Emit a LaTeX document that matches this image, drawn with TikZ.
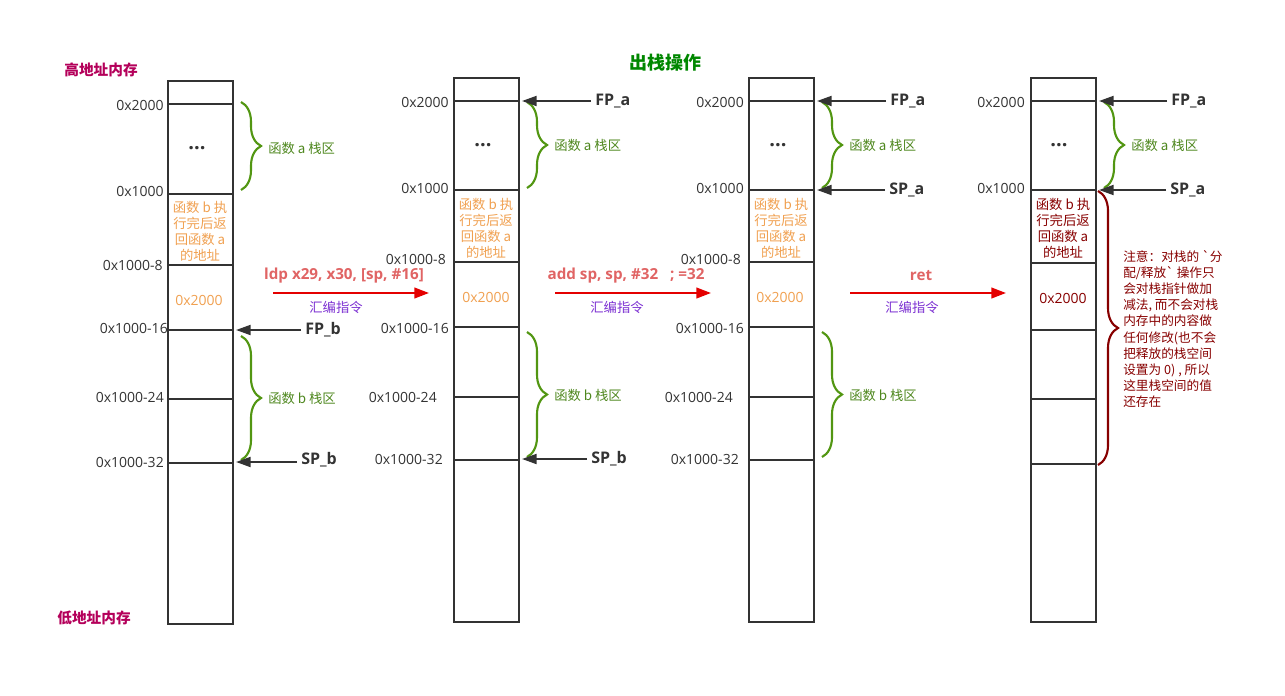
\documentclass[tikz,border=0pt]{standalone}
\usepackage{fontspec}
\setmainfont{Open Sans}
\newfontfamily\cjk{Noto Sans CJK SC}
\usetikzlibrary{
    arrows.meta,
    decorations.pathreplacing,
    positioning
}
\definecolor{inkgray}{RGB}{51,51,51}
\definecolor{bracegreen}{RGB}{82,150,18}
\definecolor{areagreen}{RGB}{78,135,30}
\definecolor{addrorange}{RGB}{240,160,80}
\definecolor{notered}{RGB}{135,0,0}
\definecolor{arrowred}{RGB}{228,0,0}
\definecolor{instrred}{RGB}{224,100,100}
\definecolor{asmpurple}{RGB}{125,50,210}
\definecolor{memred}{RGB}{180,0,90}
\definecolor{titlegreen}{RGB}{0,135,0}
\tikzset{addr/.style={anchor=east, inner sep=0pt, text=inkgray, font=\fontsize{10.5}{12}\selectfont}}
\tikzset{ptr/.style={anchor=west, inner xsep=3pt, inner ysep=0pt, text=inkgray, font=\bfseries\fontsize{12}{14}\selectfont}}
\tikzset{ptrarrow/.style={draw=inkgray, line width=1.5pt, -{Triangle[length=11pt,width=7.5pt]}}}
\tikzset{cell/.style={draw=inkgray, line width=1.5pt}}
\tikzset{stackbrace/.style={decorate, decoration={brace, amplitude=15pt}, draw=bracegreen, line width=1.6pt}}
\tikzset{notebrace/.style={stackbrace, draw=notered}}
\tikzset{area/.style={anchor=west, inner sep=0pt, text=areagreen, font=\cjk\fontsize{10}{12}\selectfont}}
\tikzset{retaddr/.style={align=center, inner sep=0pt, text=addrorange, font=\cjk\fontsize{10}{12}\selectfont}}
\tikzset{saved/.style={inner sep=0pt, text=addrorange, font=\fontsize{10.5}{12}\selectfont}}
\tikzset{dots/.style={inner sep=0pt, text=inkgray, font=\bfseries\fontsize{15}{15}\selectfont}}
\tikzset{steparrow/.style={draw=arrowred, line width=1.5pt, -{Triangle[length=11pt,width=8pt]}}}
\tikzset{instr/.style={inner sep=0pt, text=instrred, font=\bfseries\fontsize{11.4}{13}\selectfont}}
\tikzset{asm/.style={inner sep=0pt, text=asmpurple, font=\cjk\fontsize{10}{12}\selectfont}}
\tikzset{memend/.style={inner sep=0pt, text=memred, font=\cjk\bfseries\fontsize{11}{13}\selectfont}}
\tikzset{headline/.style={inner sep=0pt, text=titlegreen, font=\cjk\bfseries\fontsize{13.5}{16}\selectfont}}
\tikzset{note/.style={anchor=west, align=left, inner sep=0pt, text=notered, font=\cjk\fontsize{9.5}{12.15}\selectfont}}
\begin{document}
\begin{tikzpicture}[x=0.75pt, y=-0.75pt]
\useasboundingbox (0,0) rectangle (1285,696);

\node[headline] (ttl) at (665,63) {出栈操作};
\node[memend] (hi) at (101,70) {高地址内存};
\node[memend] (lo) at (94,618) {低地址内存};

% column 1: before ldp
\draw[cell] (168,81) rectangle (233,624);
\foreach \y in {104,194,265,330,399,463}
    \draw[cell] (168,\y) -- (234,\y);
\node[addr] (c1m0) at (164,105) {0x2000};
\node[addr] (c1m1) at (164,191) {0x1000};
\node[addr] (c1m2) at (163,265) {0x1000-8};
\node[addr] (c1m3) at (168,328) {0x1000-16};
\node[addr] (c1m4) at (164,397) {0x1000-24};
\node[addr] (c1m5) at (164,462) {0x1000-32};
\node[dots] (c1dots) at (197,148) {...};
\node[retaddr] (c1ret) at (200,231) {函数 b 执\\行完后返\\回函数 a\\的地址};
\node[saved] (c1fp) at (199,300) {0x2000};
\coordinate (c1at) at (241,102);
\coordinate (c1ab) at (241,190);
\coordinate (c1bt) at (241,336);
\coordinate (c1bb) at (241,460);
\draw[stackbrace] (c1at) -- (c1ab);
\draw[stackbrace] (c1bt) -- (c1bb);
\node[area] (c1a) at (268,148) {函数 a 栈区};
\node[area] (c1b) at (268,398) {函数 b 栈区};
\node[ptr] (fpb1) at (301,330) {FP\_b};
\node[ptr] (spb1) at (297,460) {SP\_b};
\coordinate (c1fpto) at (236,330);
\coordinate (c1spto) at (236,462);
\draw[ptrarrow] (fpb1.west |- c1fpto) -- (c1fpto);
\draw[ptrarrow] (spb1.west |- c1spto) -- (c1spto);

% step 1
\coordinate (s1from) at (273,293);
\coordinate (s1to) at (429,293);
\draw[steparrow] (s1from) -- (s1to);
\node[instr] (s1ins) at (344,276) {ldp x29, x30, [sp, \#16]};
\node[asm] (s1asm) at (336,307) {汇编指令};

% column 2: after ldp
\draw[cell] (454,78) rectangle (519,622);
\foreach \y in {101,190,262,327,397,460}
    \draw[cell] (454,\y) -- (520,\y);
\node[addr] (c2m0) at (449,102) {0x2000};
\node[addr] (c2m1) at (449,188) {0x1000};
\node[addr] (c2m2) at (446,259) {0x1000-8};
\node[addr] (c2m3) at (449,328) {0x1000-16};
\node[addr] (c2m4) at (437,397) {0x1000-24};
\node[addr] (c2m5) at (443,459) {0x1000-32};
\node[dots] (c2dots) at (483,145) {...};
\node[retaddr] (c2ret) at (486,228) {函数 b 执\\行完后返\\回函数 a\\的地址};
\node[saved] (c2fp) at (486,297) {0x2000};
\coordinate (c2at) at (527,102);
\coordinate (c2ab) at (527,188);
\coordinate (c2bt) at (527,332);
\coordinate (c2bb) at (527,457);
\draw[stackbrace] (c2at) -- (c2ab);
\draw[stackbrace] (c2bt) -- (c2bb);
\node[area] (c2a) at (554,145) {函数 a 栈区};
\node[area] (c2b) at (554,395) {函数 b 栈区};
\node[ptr] (fpa2) at (591,101) {FP\_a};
\node[ptr] (spb2) at (587,459) {SP\_b};
\coordinate (c2fpto) at (522,101);
\coordinate (c2spto) at (522,459);
\draw[ptrarrow] (fpa2.west |- c2fpto) -- (c2fpto);
\draw[ptrarrow] (spb2.west |- c2spto) -- (c2spto);

% step 2
\coordinate (s2from) at (555,293);
\coordinate (s2to) at (711,293);
\draw[steparrow] (s2from) -- (s2to);
\node[instr] (s2ins) at (626,276) {add sp, sp, \#32\ \ \ ; =32};
\node[asm] (s2asm) at (617,307) {汇编指令};

% column 3: after add
\draw[cell] (749,78) rectangle (814,622);
\foreach \y in {101,190,262,327,397,460}
    \draw[cell] (749,\y) -- (815,\y);
\node[addr] (c3m0) at (744,102) {0x2000};
\node[addr] (c3m1) at (744,188) {0x1000};
\node[addr] (c3m2) at (741,259) {0x1000-8};
\node[addr] (c3m3) at (744,328) {0x1000-16};
\node[addr] (c3m4) at (733,397) {0x1000-24};
\node[addr] (c3m5) at (739,459) {0x1000-32};
\node[dots] (c3dots) at (778,145) {...};
\node[retaddr] (c3ret) at (781,228) {函数 b 执\\行完后返\\回函数 a\\的地址};
\node[saved] (c3fp) at (780,297) {0x2000};
\coordinate (c3at) at (822,102);
\coordinate (c3ab) at (822,188);
\coordinate (c3bt) at (822,332);
\coordinate (c3bb) at (822,457);
\draw[stackbrace] (c3at) -- (c3ab);
\draw[stackbrace] (c3bt) -- (c3bb);
\node[area] (c3a) at (849,145) {函数 a 栈区};
\node[area] (c3b) at (849,395) {函数 b 栈区};
\node[ptr] (fpa3) at (886,101) {FP\_a};
\node[ptr] (spa3) at (885,190) {SP\_a};
\coordinate (c3fpto) at (817,101);
\coordinate (c3spto) at (817,190);
\draw[ptrarrow] (fpa3.west |- c3fpto) -- (c3fpto);
\draw[ptrarrow] (spa3.west |- c3spto) -- (c3spto);

% step 3
\coordinate (s3from) at (850,293);
\coordinate (s3to) at (1006,293);
\draw[steparrow] (s3from) -- (s3to);
\node[instr] (s3ins) at (921,276) {ret};
\node[asm] (s3asm) at (912,307) {汇编指令};

% column 4: after ret
\draw[cell] (1031,78) rectangle (1096,622);
\foreach \y in {101,190,263,330,399,464}
    \draw[cell] (1031,\y) -- (1097,\y);
\node[addr] (c4m0) at (1025,102) {0x2000};
\node[addr] (c4m1) at (1025,188) {0x1000};
\node[dots] (c4dots) at (1059,145) {...};
\node[retaddr, text=notered] (c4ret) at (1063,228) {函数 b 执\\行完后返\\回函数 a\\的地址};
\node[saved, text=notered] (c4fp) at (1063,298) {0x2000};
\coordinate (c4at) at (1104,102);
\coordinate (c4ab) at (1104,188);
\coordinate (c4nt) at (1098,191);
\coordinate (c4nb) at (1098,465);
\draw[stackbrace] (c4at) -- (c4ab);
\draw[notebrace] (c4nt) -- (c4nb);
\node[area] (c4a) at (1131,145) {函数 a 栈区};
\node[note] (c4note) at (1123,329) {注意：对栈的 \symbol{96}分\\配/释放\symbol{96} 操作只\\会对栈指针做加\\减法, 而不会对栈\\内存中的内容做\\任何修改(也不会\\把释放的栈空间\\设置为 0) , 所以\\这里栈空间的值\\还存在};
\node[ptr] (fpa4) at (1167,101) {FP\_a};
\node[ptr] (spa4) at (1166,190) {SP\_a};
\coordinate (c4fpto) at (1099,101);
\coordinate (c4spto) at (1099,190);
\draw[ptrarrow] (fpa4.west |- c4fpto) -- (c4fpto);
\draw[ptrarrow] (spa4.west |- c4spto) -- (c4spto);
\end{tikzpicture}
\end{document}
